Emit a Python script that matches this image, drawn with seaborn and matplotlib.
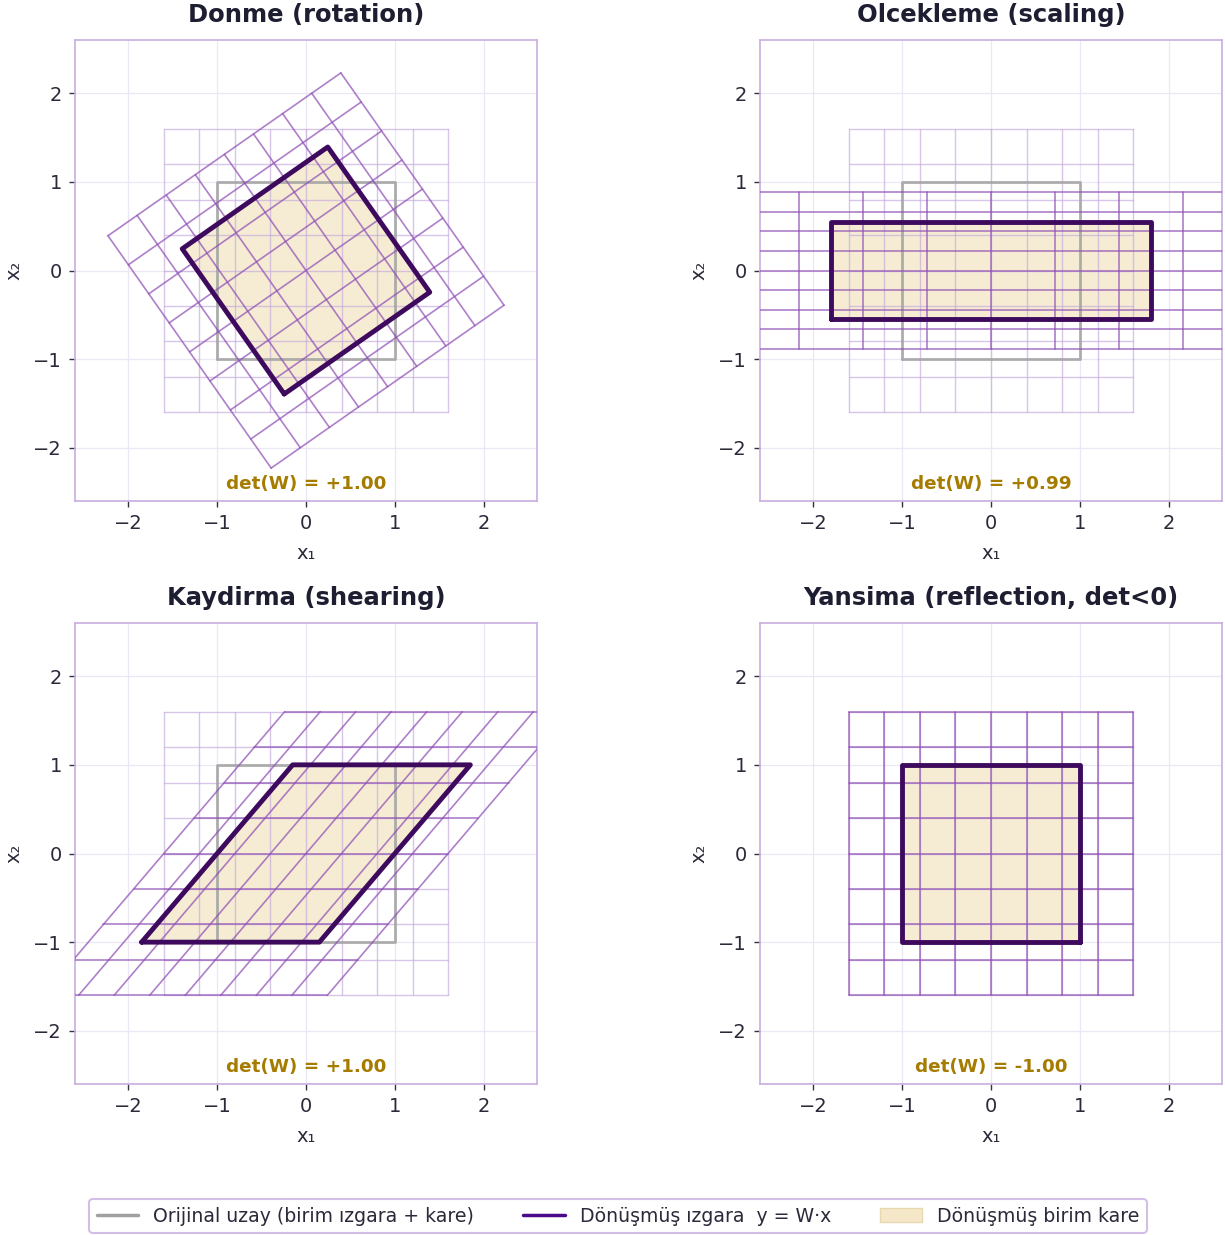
import numpy as np
import matplotlib
matplotlib.use("Agg")
import matplotlib.pyplot as plt
import seaborn as sns
import pandas as pd
from matplotlib.lines import Line2D
from matplotlib.patches import Patch, Polygon

# ---- data ----
titles = ["Donme (rotation)", "Olcekleme (scaling)", "Kaydirma (shearing)", "Yansima (reflection, det<0)"]
W_rotation = [[0.819, -0.574], [0.574, 0.819]]
W_scaling = [[1.80, 0.0], [0.0, 0.55]]
W_shearing = [[1.0, 0.85], [0.0, 1.0]]
W_reflection = [[-1.0, 0.0], [0.0, 1.0]]
matrices = [W_rotation, W_scaling, W_shearing, W_reflection]
grid_ticks = [-1.6, -1.2, -0.8, -0.4, 0.0, 0.4, 0.8, 1.2, 1.6]
square_x = [-1, 1, 1, -1, -1]
square_y = [-1, -1, 1, 1, -1]
axis_ticks = [-2, -1, 0, 1, 2]
legend_labels = ["Orijinal uzay (birim ızgara + kare)", "Dönüşmüş ızgara  y = W·x", "Dönüşmüş birim kare"]

sns.set_theme(style="white")
plt.rcParams['font.family'] = ['DejaVu Sans']

C_ORIG_GRID = "#c4a8dc"
C_ORIG_SQ = "#a0a0a0"
C_TGRID = "#8e4fb5"
C_TSQ = "#3d0a5e"
C_FILL = "#f6ecd4"
C_DET = "#a67c00"
C_TEXT = "#1e1e32"
C_SPINE = "#c8aee0"

fig = plt.figure(figsize=(12.25, 12.35), dpi=100)
W_px, H_px = 1225, 1235
boxes = [(75, 40), (760, 40), (75, 623), (760, 623)]
aw, ah = 462, 461

g = np.array(grid_ticks)
t = np.linspace(g[0], g[-1], 50)

for k, (W, title) in enumerate(zip(matrices, titles)):
    x0, y0 = boxes[k]
    ax = fig.add_axes([x0 / W_px, 1 - (y0 + ah) / H_px, aw / W_px, ah / H_px])
    Wm = np.array(W)
    sq = Wm @ np.vstack([square_x, square_y])
    # transformed square fill (underneath grids)
    ax.add_patch(Polygon(sq.T[:-1], closed=True, facecolor=C_FILL, edgecolor='none', zorder=1))
    # original grid
    for v in g:
        ax.plot([v, v], [g[0], g[-1]], color=C_ORIG_GRID, lw=1.0, alpha=0.65, zorder=2)
        ax.plot([g[0], g[-1]], [v, v], color=C_ORIG_GRID, lw=1.0, alpha=0.65, zorder=2)
    # original square
    sns.lineplot(x=square_x, y=square_y, sort=False, estimator=None, color=C_ORIG_SQ,
                 lw=2.0, alpha=0.85, ax=ax, zorder=3)
    # transformed grid
    for v in g:
        pts = Wm @ np.vstack([np.full_like(t, v), t])
        ax.plot(pts[0], pts[1], color=C_TGRID, lw=1.2, alpha=0.72, zorder=4)
        pts = Wm @ np.vstack([t, np.full_like(t, v)])
        ax.plot(pts[0], pts[1], color=C_TGRID, lw=1.2, alpha=0.72, zorder=4)
    # transformed square outline
    df = pd.DataFrame({"x": sq[0], "y": sq[1]})
    sns.lineplot(data=df, x="x", y="y", sort=False, estimator=None, color=C_TSQ, lw=3.5,
                 ax=ax, zorder=5)
    det = np.linalg.det(Wm)
    dtxt = f"det(W) = {det:+.2f}" if det > 0 else f"det(W) = {det:.2f}"
    ax.text(0.5, 0.018, dtxt, transform=ax.transAxes, ha='center', va='bottom',
            color=C_DET, fontsize=13.2, fontweight='bold', zorder=6)
    ax.set_xlim(-2.6, 2.6)
    ax.set_ylim(-2.6, 2.6)
    ax.set_xticks(axis_ticks)
    ax.set_yticks(axis_ticks)
    ax.grid(True, color="#ece7f4", lw=0.9, zorder=0)
    ax.set_axisbelow(True)
    for s in ax.spines.values():
        s.set_color(C_SPINE)
        s.set_linewidth(1.2)
    ax.tick_params(axis='both', which='both', bottom=True, left=True, length=4.5, width=1.0,
                   color="#333344", labelsize=14, labelcolor="#2a2a3a", pad=5)
    ax.set_xlabel("x₁", fontsize=14, color="#2a2a3a", labelpad=8)
    ax.set_ylabel("x₂", fontsize=14, color="#2a2a3a", labelpad=7)
    ax.set_title(title, fontsize=17.5, fontweight='bold', color=C_TEXT, pad=13)

handles = [Line2D([0], [0], color=C_ORIG_SQ, lw=2.5),
           Line2D([0], [0], color="#4b0a8a", lw=2.5),
           Patch(facecolor="#f5e8c9", edgecolor="#e8d8b0")]
leg = fig.legend(handles, legend_labels, loc='center', bbox_to_anchor=(618 / W_px, 1 - 1216 / H_px),
                 ncol=3, fontsize=13.6, frameon=True, handlelength=2.2, columnspacing=2.6,
                 labelcolor="#2a2a3a", borderpad=0.4)
leg.get_frame().set_edgecolor(C_SPINE)
leg.get_frame().set_linewidth(1.5)

fig.savefig("out.png", dpi=100)
